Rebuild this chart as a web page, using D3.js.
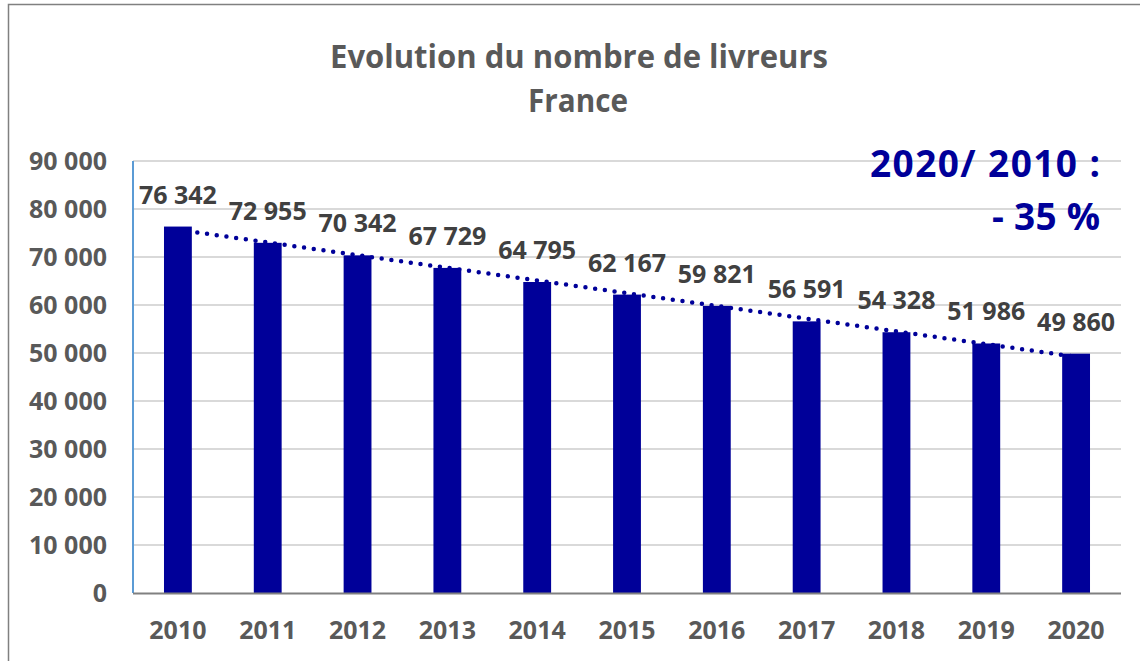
<!DOCTYPE html>
<html>
<head>
<meta charset="utf-8">
<script src="https://cdn.jsdelivr.net/npm/d3@7"></script>
<style>
	html, body { margin: 0; padding: 0; background: #fff; }
	text { font-family: "Open Sans", "Noto Sans", sans-serif; font-weight: bold; }
</style>
</head>
<body>
<svg id="chart"></svg>
<script>
'use strict';

// data
var years = ['2010', '2011', '2012', '2013', '2014', '2015', '2016', '2017', '2018', '2019', '2020'];
var livreurs = [76342, 72955, 70342, 67729, 64795, 62167, 59821, 56591, 54328, 51986, 49860];
var yTicks = [0, 10000, 20000, 30000, 40000, 50000, 60000, 70000, 80000, 90000];
var titleLines = ['Evolution du nombre de livreurs', 'France'];
var noteLines = ['2020/ 2010 :', '- 35 %'];

var WIDTH = 1140,
	HEIGHT = 661;

var plot = { left: 133, right: 1121, top: 161, bottom: 593 };

var barColor = '#000099',
	gridColor = '#d9d9d9',
	axisText = '#595959',
	labelText = '#404040';

var fr = d3.formatLocale({ decimal: ',', thousands: ' ', grouping: [3], currency: ['', ' €'] });
var fmt = fr.format(',d');

var svg = d3.select('#chart')
	.attr('width', WIDTH)
	.attr('height', HEIGHT);

// chart frame (only top + left visible in the crop)
svg.append('path')
	.attr('d', 'M8.5,' + HEIGHT + ' L8.5,4.5 L' + WIDTH + ',4.5')
	.style('fill', 'none')
	.style('stroke', '#808080')
	.style('stroke-width', 1.5);

var x = d3.scaleBand()
	.domain(years)
	.range([plot.left, plot.right])
	.paddingInner(0.69)
	.paddingOuter(0.345);

var y = d3.scaleLinear()
	.domain([0, 90000])
	.range([plot.bottom, plot.top]);

// gridlines
svg.selectAll('.grid')
	.data(yTicks.filter(function (d) { return d > 0; }))
	.enter()
	.append('line')
	.classed('grid', 1)
	.attr('x1', plot.left)
	.attr('x2', plot.right)
	.attr('y1', function (d) { return y(d); })
	.attr('y2', function (d) { return y(d); })
	.style('stroke', gridColor)
	.style('stroke-width', 2);

// y tick labels
svg.selectAll('.ytick')
	.data(yTicks)
	.enter()
	.append('text')
	.classed('ytick', 1)
	.attr('x', 107)
	.attr('y', function (d) { return y(d) + 9; })
	.style('text-anchor', 'end')
	.style('font-size', '25px')
	.style('fill', axisText)
	.text(function (d) { return fmt(d); });

// bars
svg.selectAll('.bar')
	.data(livreurs)
	.enter()
	.append('rect')
	.classed('bar', 1)
	.attr('x', function (d, i) { return x(years[i]); })
	.attr('width', x.bandwidth())
	.attr('y', function (d) { return y(d); })
	.attr('height', function (d) { return y(0) - y(d); })
	.style('fill', barColor);

// axes lines
svg.append('line')
	.attr('x1', plot.left)
	.attr('x2', plot.left)
	.attr('y1', plot.top)
	.attr('y2', plot.bottom)
	.style('stroke', '#5b9bd5')
	.style('stroke-width', 2);

svg.append('line')
	.attr('x1', plot.left)
	.attr('x2', plot.right)
	.attr('y1', plot.bottom + 0.5)
	.attr('y2', plot.bottom + 0.5)
	.style('stroke', '#808080')
	.style('stroke-width', 2);

// linear trendline (least squares over the series, like excel)
var n = livreurs.length;
var mx = d3.mean(d3.range(n)),
	my = d3.mean(livreurs);
var sxy = d3.sum(livreurs, function (d, i) { return (i - mx) * (d - my); });
var sxx = d3.sum(d3.range(n), function (i) { return (i - mx) * (i - mx); });
var slope = sxy / sxx,
	icpt = my - slope * mx;

var cx = function (i) { return x(years[i]) + x.bandwidth() / 2; };

svg.append('line')
	.attr('x1', cx(0))
	.attr('y1', y(icpt))
	.attr('x2', cx(n - 1))
	.attr('y2', y(icpt + slope * (n - 1)))
	.style('stroke', barColor)
	.style('stroke-width', 4.5)
	.style('stroke-linecap', 'round')
	.style('stroke-dasharray', '0 9.8');

// data labels
svg.selectAll('.val')
	.data(livreurs)
	.enter()
	.append('text')
	.classed('val', 1)
	.attr('x', function (d, i) { return cx(i); })
	.attr('y', function (d) { return y(d) - 23; })
	.style('text-anchor', 'middle')
	.style('font-size', '25px')
	.style('fill', labelText)
	.text(function (d) { return fmt(d); });

// x labels
svg.selectAll('.xtick')
	.data(years)
	.enter()
	.append('text')
	.classed('xtick', 1)
	.attr('x', function (d) { return x(d) + x.bandwidth() / 2; })
	.attr('y', 639)
	.style('text-anchor', 'middle')
	.style('font-size', '25px')
	.style('fill', axisText)
	.text(function (d) { return d; });

// title
svg.append('text')
	.attr('x', 579)
	.attr('y', 68)
	.style('text-anchor', 'middle')
	.style('font-size', '33px')
	.style('fill', axisText)
	.attr('textLength', 498)
	.attr('lengthAdjust', 'spacingAndGlyphs')
	.text(titleLines[0]);

svg.append('text')
	.attr('x', 578)
	.attr('y', 112)
	.style('text-anchor', 'middle')
	.style('font-size', '33px')
	.style('fill', axisText)
	.attr('textLength', 100)
	.attr('lengthAdjust', 'spacingAndGlyphs')
	.text(titleLines[1]);

// annotation
svg.selectAll('.note')
	.data(noteLines)
	.enter()
	.append('text')
	.classed('note', 1)
	.attr('x', 1100)
	.attr('y', function (d, i) { return 177 + i * 53; })
	.style('text-anchor', 'end')
	.style('font-size', '37px')
	.style('fill', barColor)
	.attr('textLength', function (d, i) { return i === 0 ? 230 : 108; })
	.attr('lengthAdjust', 'spacing')
	.text(function (d) { return d; });
</script>
</body>
</html>
